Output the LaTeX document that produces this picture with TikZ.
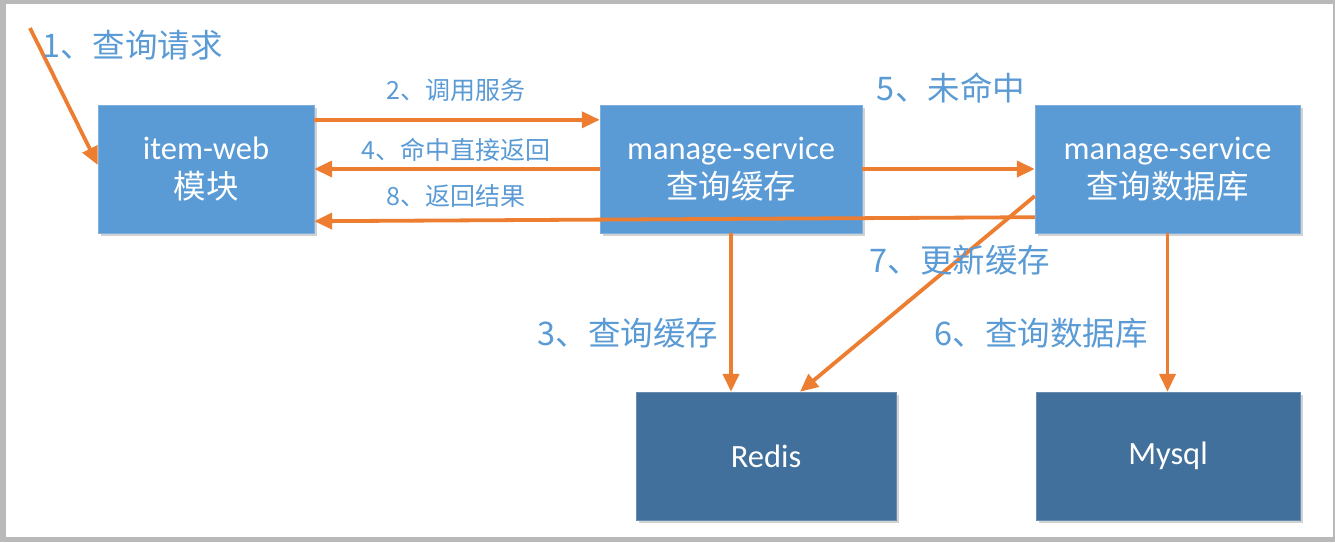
\documentclass[tikz,border=0pt]{standalone}
\usepackage{fontspec}
\setmainfont{Carlito}
\newfontfamily\cjk{Noto Sans CJK SC}
\usetikzlibrary{arrows.meta,shadows,positioning}
\definecolor{boxblue}{HTML}{5B9BD5}
\definecolor{darkblue}{HTML}{41709C}
\definecolor{flowor}{HTML}{ED7D31}
\begin{document}
\begin{tikzpicture}[x=1pt,y=-1pt,
		box/.style={draw=boxblue!80!white, fill=boxblue, text=white, align=center,
			inner sep=0pt, minimum height=128pt, font=\fontsize{32.5}{39}\selectfont,
			drop shadow={shadow xshift=3pt, shadow yshift=-3pt, opacity=0.35, fill=gray}},
		store/.style={box, fill=darkblue, draw=darkblue!80!white},
		flow/.style={draw=flowor, line width=3.8pt, -{Triangle[length=18pt,width=16pt]}},
		biglbl/.style={text=boxblue, inner sep=0pt, font=\cjk\fontsize{32.5}{38}\selectfont},
		smalllbl/.style={text=boxblue, inner sep=0pt, font=\cjk\fontsize{25}{30}\selectfont}]
		
		\useasboundingbox (0,0) rectangle (1335,542);
		\fill[gray!55] (0,0) rectangle (1335,542);
		\fill[white] (6,4) rectangle (1333,537);
		
		\node[box, minimum width=216pt] (web) at (206,169) {item-web\\{\cjk 模块}};
		\node[box, minimum width=262pt] (cache) at (731,169) {manage-service\\{\cjk 查询缓存}};
		\node[box, minimum width=265pt] (db) at (1167.5,169) {manage-service\\{\cjk 查询数据库}};
		\node[store, minimum width=260pt] (redis) at (766,456) {Redis};
		\node[store, minimum width=264pt] (mysql) at (1168,456) {Mysql};
		
		\coordinate (user) at (30,28);
		\draw[flow] (user) -- ([yshift=4pt]web.west);
		\draw[flow] ([yshift=-15pt]web.north east) -- ([yshift=-15pt]cache.north west);
		\draw[flow] (cache.west) -- (web.east);
		\draw[flow] ([yshift=16pt]db.south west) -- ([yshift=12pt]web.south east);
		\draw[flow] (cache.east) -- (db.west);
		\draw[flow] (cache.south) -- (cache.south |- redis.north);
		\draw[flow] (db.south) -- (db.south |- mysql.north);
		\draw[flow] ([yshift=-27pt]db.west) -- ([xshift=34pt]redis.north);
		
		\node[biglbl, anchor=west] (l1) at (42,45) {1、查询请求};
		\node[smalllbl] (l2) at (456,90) {2、调用服务};
		\node[smalllbl] (l4) at (456,150) {4、命中直接返回};
		\node[smalllbl] (l8) at (456,196) {8、返回结果};
		\node[biglbl] (l5) at (951,88) {5、未命中};
		\node[biglbl] (l7) at (960,260) {7、更新缓存};
		\node[biglbl] (l3) at (628,333) {3、查询缓存};
		\node[biglbl] (l6) at (1041,333) {6、查询数据库};
\end{tikzpicture}
\end{document}
